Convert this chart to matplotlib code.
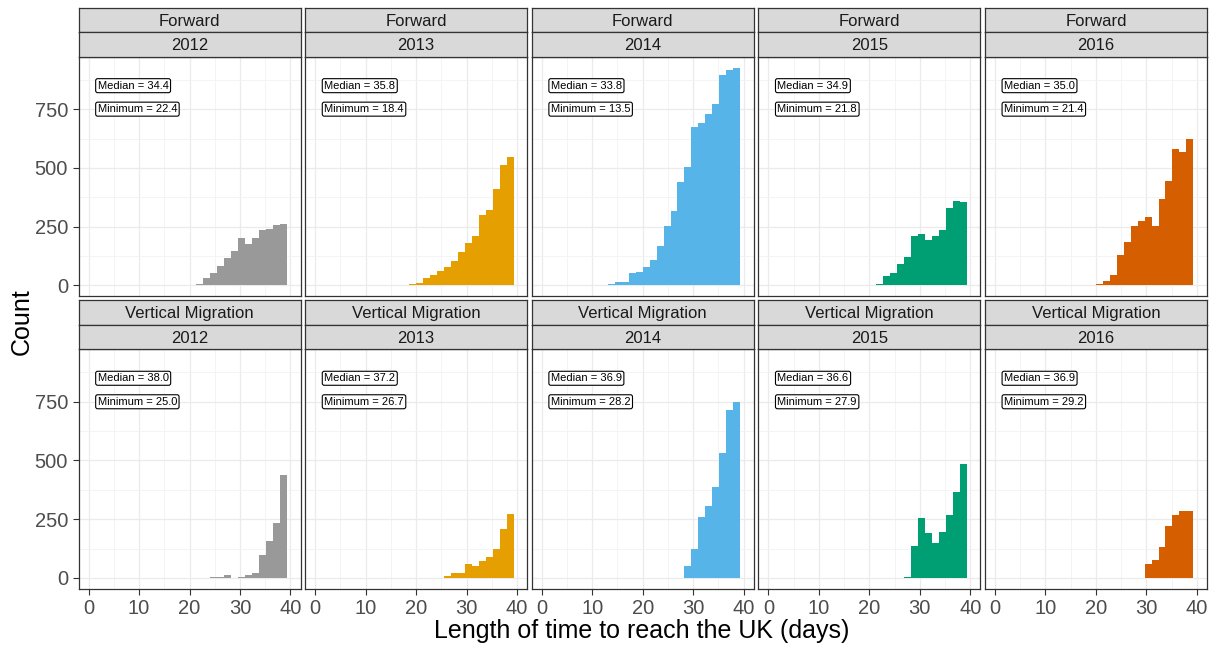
import numpy as np
import matplotlib.pyplot as plt
from matplotlib.ticker import MultipleLocator

plt.rcParams['font.family'] = ['Liberation Sans', 'DejaVu Sans']

# DATA
years = ["2012", "2013", "2014", "2015", "2016"]
rows = ["Forward", "Vertical Migration"]
colours = ["#999999", "#E69F00", "#56B4E9", "#009E73", "#D55E00"]

# histogram: 30 bins over 0-40 (ggplot default), counts
n_bins = 30
x_range = (0, 40)

# first bin index of each panel, then counts
fwd_start = [16, 13, 10, 16, 15]
fwd_2012 = [6, 32, 54, 82, 116, 148, 202, 175, 203, 234, 241, 258, 263]
fwd_2013 = [2, 4, 8, 32, 42, 61, 79, 103, 140, 179, 212, 298, 319, 410, 514, 547]
fwd_2014 = [4, 16, 16, 51, 56, 78, 107, 168, 251, 318, 441, 503, 675, 689, 729, 771, 895, 917, 927]
fwd_2015 = [4, 40, 54, 89, 119, 212, 218, 195, 208, 237, 331, 359, 356]
fwd_2016 = [4, 18, 44, 129, 184, 251, 274, 291, 251, 366, 446, 579, 569, 623]

vm_start = [18, 19, 21, 20, 22]
vm_2012 = [6, 2, 13, 0, 3, 14, 21, 98, 158, 233, 440]
vm_2013 = [8, 23, 23, 58, 51, 70, 87, 121, 209, 274]
vm_2014 = [50, 122, 260, 307, 389, 530, 716, 751]
vm_2015 = [3, 134, 256, 190, 148, 195, 268, 365, 484]
vm_2016 = [58, 77, 131, 222, 268, 285, 285]

fwd_median = [34.4, 35.8, 33.8, 34.9, 35.0]
fwd_min = [22.4, 18.4, 13.5, 21.8, 21.4]
vm_median = [38.0, 37.2, 36.9, 36.6, 36.9]
vm_min = [25.0, 26.7, 28.2, 27.9, 29.2]

counts = [[fwd_2012, fwd_2013, fwd_2014, fwd_2015, fwd_2016],
          [vm_2012, vm_2013, vm_2014, vm_2015, vm_2016]]
starts = [fwd_start, vm_start]
medians = [fwd_median, vm_median]
minimums = [fwd_min, vm_min]

# LAYOUT
W, H = 1214, 645
fig = plt.figure(figsize=(W / 100, H / 100), dpi=100)

bw = (x_range[1] - x_range[0]) / (n_bins - 1)
ymax = max(max(c) for r in counts for c in r)

panel_w = 222
col_left = [78.5 + i * 226.6 for i in range(5)]
row_top = [56.7, 349.3]
panel_h = 239.5
strip_h = 24.6

def px_axes(left, top, w, h):
    return fig.add_axes([left / W, 1 - (top + h) / H, w / W, h / H])

for r in range(2):
    for c in range(5):
        ax = px_axes(col_left[c], row_top[r], panel_w, panel_h)
        data = counts[r][c]
        k = np.arange(starts[r][c], starts[r][c] + len(data))
        left_edges = (k - 0.5) * bw
        ax.bar(left_edges, data, width=bw, align='edge', color=colours[c], linewidth=0)

        ax.set_xlim(-2, 42)
        ax.set_ylim(-0.05 * ymax, 1.05 * ymax)
        ax.xaxis.set_major_locator(MultipleLocator(10))
        ax.xaxis.set_minor_locator(MultipleLocator(5))
        ax.yaxis.set_major_locator(MultipleLocator(250))
        ax.yaxis.set_minor_locator(MultipleLocator(125))
        ax.set_axisbelow(True)
        ax.grid(which='major', color='#EBEBEB', linewidth=0.9)
        ax.grid(which='minor', color='#F3F3F3', linewidth=0.6)
        for s in ax.spines.values():
            s.set_color('#333333')
            s.set_linewidth(0.9)

        ax.tick_params(which='minor', length=0)
        ax.tick_params(which='major', length=4, color='#333333', width=0.8,
                       labelsize=14.5, labelcolor='#4D4D4D')
        if c != 0:
            ax.tick_params(axis='y', length=0, labelleft=False)
        if r == 0:
            ax.tick_params(axis='x', length=0, labelbottom=False)

        # median / minimum labels
        box = dict(boxstyle='round,pad=0.18', fc='white', ec='black', lw=0.8)
        ax.text(1.8, 850, f"Median = {medians[r][c]:.1f}", fontsize=8,
                ha='left', va='center', bbox=box)
        ax.text(1.8, 750, f"Minimum = {minimums[r][c]:.1f}", fontsize=8,
                ha='left', va='center', bbox=box)

        # strips
        for j, lab in enumerate([rows[r], years[c]]):
            top = row_top[r] - 2 * strip_h + j * strip_h
            sax = px_axes(col_left[c], top, panel_w, strip_h)
            sax.set_facecolor('#D9D9D9')
            sax.set_xticks([])
            sax.set_yticks([])
            for s in sax.spines.values():
                s.set_color('#333333')
                s.set_linewidth(0.9)
            sax.text(0.5, 0.45, lab, transform=sax.transAxes, ha='center', va='center',
                     fontsize=12, color='#1A1A1A')

fig.text(642 / W, 1 - 631 / H, "Length of time to reach the UK (days)",
         ha='center', va='center', fontsize=18)
fig.text(22 / W, 1 - 322 / H, "Count", rotation=90, ha='center', va='center', fontsize=18)

fig.savefig("out.png", dpi=100)
